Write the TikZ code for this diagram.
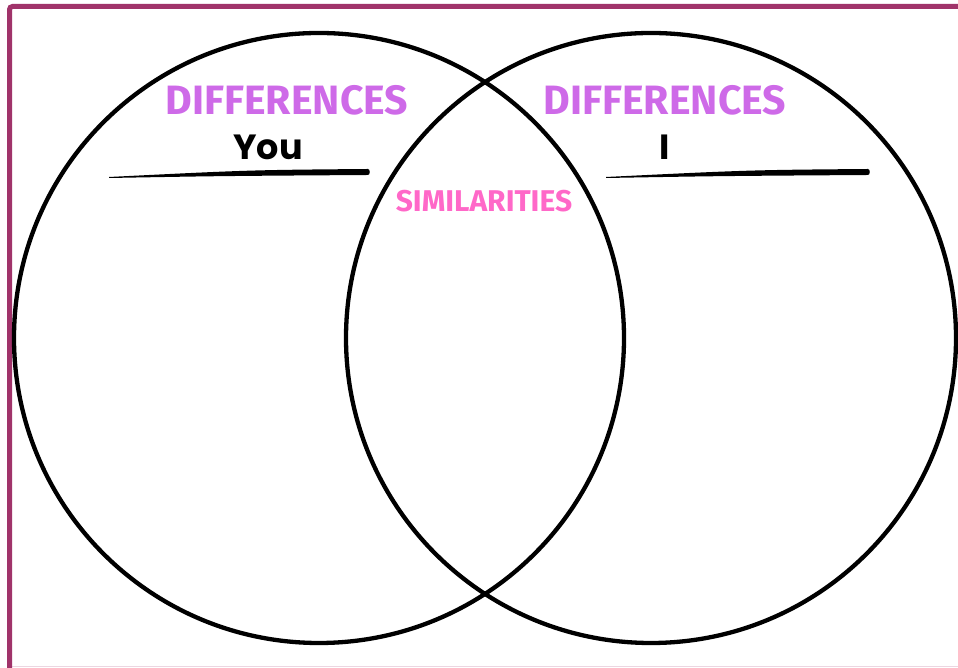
\documentclass[tikz,border=0pt]{standalone}
\usepackage{fontspec}
\setmainfont{Poppins}
\newfontfamily\headfont{Fira Sans}
\usetikzlibrary{positioning}

\definecolor{framepurple}{RGB}{160,51,106}
\definecolor{diffviolet}{RGB}{206,106,232}
\definecolor{simpink}{RGB}{255,104,200}

\begin{document}
\begin{tikzpicture}[x=1pt, y=1pt,
    set/.style={line width=4.3pt, black},
    headline/.style={text=diffviolet, font=\headfont\bfseries\fontsize{41}{41}\selectfont, inner sep=0pt},
    midline/.style={text=simpink, font=\headfont\bfseries\fontsize{30}{30}\selectfont, inner sep=0pt},
    who/.style={anchor=base, font=\bfseries\fontsize{35}{35}\selectfont, inner sep=0pt}]
  \useasboundingbox (0,0) rectangle (958,668);
  % outer frame (left and top edges)
  \draw[framepurple!20, line width=1pt] (9.5,1.5) -- (958,1.5);
  \draw[framepurple, line width=5pt, rounded corners=3pt] (9.5,0) -- (9.5,661.5) -- (958,661.5);
  % the two sets
  \draw[set] (319,330) circle[radius=305];
  \draw[set] (651,330) circle[radius=305];
  % headings
  \node[headline] (diffL) at (287,568) {DIFFERENCES};
  \node[headline] (diffR) at (665,568) {DIFFERENCES};
  \node[midline] (sim) at (484,467) {SIMILARITIES};
  % names on the lines
  \node[who] (you) at (268,508) {You};
  \node[who] (me) at (665,508) {I};
  % brush underlines
  \fill[black] (109,490) .. controls (220,492) .. (368,493) to[out=0, in=0] (368,499)
    .. controls (250,498) .. (109,491) -- cycle;
  \fill[black] (606,490) .. controls (720,492) .. (868,493) to[out=0, in=0] (868,499)
    .. controls (750,498) .. (606,491) -- cycle;
\end{tikzpicture}
\end{document}
